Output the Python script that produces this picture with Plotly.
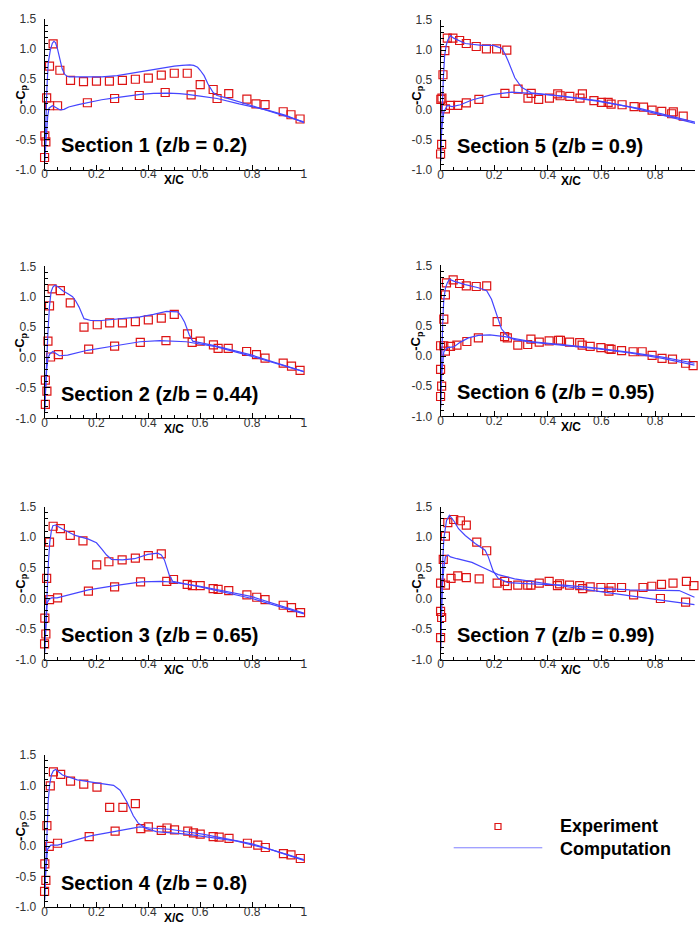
import plotly.graph_objects as go

# ---------------- data: -Cp vs x/c at seven spanwise stations ----------------
section_labels = ["Section 1 (z/b = 0.2)", "Section 2 (z/b = 0.44)", "Section 3 (z/b = 0.65)",
                  "Section 4 (z/b = 0.8)", "Section 5 (z/b = 0.9)", "Section 6 (z/b = 0.95)",
                  "Section 7 (z/b = 0.99)"]

x_tick_vals = [0, 0.2, 0.4, 0.6, 0.8, 1.0]
x_tick_text = ["0", "0.2", "0.4", "0.6", "0.8", "1"]
y_tick_vals = [-1.0, -0.5, 0.0, 0.5, 1.0, 1.5]
y_tick_text = ["-1.0", "-0.5", "0.0", "0.5", "1.0", "1.5"]

# Section 1
s1_exp_x = [0.0, 0.001, 0.005, 0.008, 0.019, 0.019, 0.033, 0.05, 0.059, 0.10, 0.15, 0.165, 0.20, 0.25,
            0.27, 0.30, 0.35, 0.365, 0.40, 0.45, 0.465, 0.50, 0.55, 0.565, 0.60, 0.65, 0.665, 0.71,
            0.78, 0.815, 0.85, 0.92, 0.95, 0.985]
s1_exp_y = [-0.80, -0.44, -0.54, 0.19, 0.06, 0.72, 1.09, 0.06, 0.65, 0.48, 0.46, 0.11, 0.47, 0.47,
            0.18, 0.48, 0.50, 0.23, 0.52, 0.57, 0.28, 0.60, 0.60, 0.24, 0.41, 0.33, 0.18, 0.26,
            0.17, 0.09, 0.08, -0.04, -0.09, -0.16]
s1_up_x = [0.0, 0.004, 0.009, 0.014, 0.022, 0.030, 0.036, 0.042, 0.050, 0.060, 0.068, 0.078, 0.087,
           0.095, 0.12, 0.16, 0.22, 0.28, 0.35, 0.40, 0.45, 0.50, 0.53, 0.56, 0.575, 0.59, 0.60,
           0.615, 0.63, 0.64, 0.65, 0.665, 0.70, 0.80, 0.90, 1.0]
s1_up_y = [-0.88, -0.20, 0.35, 0.77, 0.98, 1.10, 1.13, 1.11, 1.00, 0.82, 0.67, 0.58, 0.55,
           0.54, 0.54, 0.54, 0.54, 0.56, 0.61, 0.65, 0.69, 0.72, 0.73, 0.74, 0.73, 0.70, 0.65,
           0.56, 0.42, 0.34, 0.28, 0.23, 0.19, 0.06, -0.08, -0.21]
s1_lo_x = [0.0, 0.004, 0.008, 0.012, 0.017, 0.024, 0.030, 0.040, 0.050, 0.060, 0.075, 0.093, 0.13,
           0.17, 0.22, 0.27, 0.32, 0.37, 0.42, 0.475, 0.52, 0.55, 0.60, 0.665, 0.75, 0.856, 0.93, 1.0]
s1_lo_y = [-0.88, -0.60, -0.35, -0.12, 0.02, 0.05, 0.06, 0.04, 0.01, -0.01, 0.0, 0.04, 0.08,
           0.12, 0.16, 0.19, 0.22, 0.25, 0.265, 0.27, 0.26, 0.25, 0.22, 0.18, 0.09, -0.01, -0.10, -0.22]

# Section 2
s2_exp_x = [0.003, 0.003, 0.009, 0.013, 0.019, 0.023, 0.029, 0.053, 0.061, 0.099, 0.152, 0.17, 0.203,
            0.251, 0.27, 0.30, 0.35, 0.369, 0.40, 0.45, 0.468, 0.50, 0.551, 0.569, 0.60, 0.651,
            0.669, 0.708, 0.779, 0.817, 0.85, 0.92, 0.952, 0.985]
s2_exp_y = [-0.77, -0.37, -0.55, 0.27, 0.85, 0.01, 1.13, 0.05, 1.10, 0.90, 0.50, 0.14, 0.54,
            0.57, 0.19, 0.57, 0.59, 0.25, 0.62, 0.65, 0.28, 0.71, 0.39, 0.25, 0.27, 0.21,
            0.15, 0.15, 0.10, 0.05, -0.01, -0.09, -0.14, -0.21]
s2_up_x = [0.0, 0.004, 0.008, 0.013, 0.019, 0.025, 0.032, 0.040, 0.050, 0.070, 0.090, 0.108, 0.120,
           0.133, 0.152, 0.178, 0.22, 0.28, 0.368, 0.42, 0.47, 0.514, 0.527, 0.54, 0.558, 0.571,
           0.65, 0.80, 1.0]
s2_up_y = [-0.88, -0.45, 0.0, 0.42, 0.85, 1.08, 1.16, 1.19, 1.17, 1.10, 1.05, 1.00, 0.93,
           0.83, 0.64, 0.61, 0.61, 0.63, 0.67, 0.71, 0.76, 0.75, 0.68, 0.58, 0.37, 0.27,
           0.20, 0.04, -0.23]
s2_lo_x = [0.0, 0.004, 0.008, 0.013, 0.020, 0.032, 0.045, 0.057, 0.089, 0.165, 0.267, 0.368, 0.444,
           0.546, 0.66, 0.80, 1.0]
s2_lo_y = [-0.88, -0.44, -0.20, -0.01, 0.06, 0.10, 0.06, 0.03, 0.04, 0.12, 0.19, 0.26, 0.28,
           0.26, 0.18, 0.02, -0.23]

# Section 3
s3_exp_x = [0.0, 0.001, 0.005, 0.008, 0.019, 0.019, 0.033, 0.05, 0.061, 0.099, 0.148, 0.169, 0.201,
            0.248, 0.27, 0.299, 0.35, 0.37, 0.40, 0.45, 0.471, 0.497, 0.55, 0.57, 0.60, 0.65,
            0.669, 0.71, 0.78, 0.818, 0.85, 0.92, 0.952, 0.987]
s3_exp_y = [-0.74, -0.32, -0.58, 0.33, 0.92, -0.02, 1.18, 0.01, 1.14, 1.03, 0.94, 0.12, 0.55,
            0.60, 0.19, 0.63, 0.66, 0.27, 0.70, 0.73, 0.28, 0.31, 0.23, 0.21, 0.21, 0.16,
            0.15, 0.13, 0.06, 0.02, -0.02, -0.11, -0.15, -0.23]
s3_up_x = [0.0, 0.004, 0.010, 0.015, 0.020, 0.026, 0.032, 0.042, 0.067, 0.118, 0.169, 0.20, 0.22,
           0.239, 0.258, 0.30, 0.347, 0.398, 0.436, 0.450, 0.462, 0.481, 0.494, 0.60, 0.80, 1.0]
s3_up_y = [-0.88, -0.40, 0.17, 0.60, 0.92, 1.10, 1.19, 1.20, 1.14, 1.03, 0.97, 0.91, 0.81,
           0.71, 0.64, 0.63, 0.65, 0.72, 0.74, 0.71, 0.63, 0.38, 0.28, 0.19, 0.0, -0.25]
s3_lo_x = [0.0, 0.004, 0.010, 0.018, 0.027, 0.048, 0.093, 0.169, 0.271, 0.373, 0.449, 0.487, 0.60,
           0.80, 1.0]
s3_lo_y = [-0.88, -0.45, -0.07, -0.01, 0.01, 0.01, 0.06, 0.14, 0.21, 0.27, 0.28, 0.27, 0.20,
           0.03, -0.24]

# Section 4
s4_exp_x = [0.0, 0.001, 0.005, 0.009, 0.018, 0.022, 0.034, 0.05, 0.062, 0.10, 0.151, 0.172, 0.202,
            0.251, 0.272, 0.302, 0.35, 0.371, 0.40, 0.45, 0.472, 0.501, 0.552, 0.574, 0.60, 0.65,
            0.673, 0.711, 0.782, 0.822, 0.851, 0.921, 0.95, 0.986]
s4_exp_y = [-0.74, -0.29, -0.56, 0.34, 0.00, 0.99, 1.22, 0.05, 1.18, 1.07, 1.02, 0.16, 0.97,
            0.64, 0.25, 0.64, 0.70, 0.29, 0.32, 0.26, 0.30, 0.27, 0.25, 0.22, 0.20, 0.16,
            0.15, 0.13, 0.05, 0.02, -0.02, -0.12, -0.14, -0.20]
s4_up_x = [0.0, 0.004, 0.009, 0.014, 0.020, 0.027, 0.034, 0.043, 0.069, 0.126, 0.20, 0.266, 0.291,
           0.317, 0.342, 0.361, 0.393, 0.431, 0.546, 0.737, 0.87, 1.0]
s4_up_y = [-0.88, -0.30, 0.38, 0.75, 1.03, 1.18, 1.24, 1.26, 1.17, 1.09, 1.04, 1.00, 0.92,
           0.73, 0.50, 0.38, 0.29, 0.24, 0.20, 0.09, -0.05, -0.23]
s4_lo_x = [0.0, 0.004, 0.011, 0.024, 0.05, 0.10, 0.177, 0.278, 0.367, 0.405, 0.482, 0.609, 0.80, 1.0]
s4_lo_y = [-0.88, -0.45, -0.05, 0.02, 0.02, 0.08, 0.17, 0.25, 0.32, 0.30, 0.28, 0.20, 0.04, -0.22]

# Section 5
s5_exp_x = [0.0, 0.001, 0.004, 0.005, 0.009, 0.016, 0.018, 0.025, 0.037, 0.046, 0.064, 0.071, 0.096,
            0.096, 0.133, 0.143, 0.171, 0.209, 0.24, 0.247, 0.289, 0.326, 0.338, 0.366, 0.406,
            0.437, 0.446, 0.482, 0.52, 0.529, 0.572, 0.60, 0.625, 0.636, 0.677, 0.722, 0.757,
            0.789, 0.825, 0.862, 0.868, 0.905, 0.95]
s5_exp_y = [-0.73, 0.18, -0.57, 0.20, 0.59, 0.99, 0.02, 1.20, 0.08, 1.20, 0.08, 1.16, 1.11,
            0.12, 1.06, 0.18, 1.02, 1.02, 0.28, 1.00, 0.35, 0.20, 0.28, 0.18, 0.20,
            0.27, 0.24, 0.23, 0.20, 0.27, 0.16, 0.13, 0.13, 0.10, 0.09, 0.06, 0.05,
            0.0, -0.02, -0.06, -0.03, -0.10, -0.19]
s5_up_x = [0.0, 0.003, 0.006, 0.010, 0.015, 0.021, 0.027, 0.037, 0.049, 0.092, 0.154, 0.197, 0.228,
           0.240, 0.252, 0.277, 0.302, 0.338, 0.462, 0.585, 0.708, 0.83, 0.95]
s5_up_y = [-0.85, -0.40, 0.08, 0.50, 0.90, 1.08, 1.17, 1.24, 1.20, 1.11, 1.08, 1.08, 1.03,
           0.94, 0.82, 0.54, 0.38, 0.29, 0.23, 0.16, 0.05, -0.08, -0.22]
s5_lo_x = [0.0, 0.004, 0.012, 0.025, 0.043, 0.074, 0.117, 0.191, 0.265, 0.338, 0.437, 0.585, 0.75, 0.95]
s5_lo_y = [-0.85, -0.31, -0.03, 0.08, 0.06, 0.09, 0.17, 0.26, 0.30, 0.28, 0.24, 0.15, 0.02, -0.20]

# Section 6
s6_exp_x = [0.0, 0.0, 0.0, 0.004, 0.012, 0.012, 0.018, 0.018, 0.022, 0.037, 0.047, 0.061, 0.071,
            0.096, 0.098, 0.133, 0.141, 0.172, 0.211, 0.239, 0.249, 0.288, 0.325, 0.337, 0.368,
            0.405, 0.44, 0.447, 0.481, 0.519, 0.528, 0.558, 0.598, 0.629, 0.636, 0.675, 0.718,
            0.752, 0.789, 0.826, 0.865, 0.914, 0.942]
s6_exp_y = [-0.67, -0.22, 0.17, -0.50, 0.61, 0.17, 1.01, 0.08, 1.21, 0.16, 1.26, 0.18, 1.20,
            1.16, 0.24, 1.15, 0.30, 1.16, 0.57, 0.32, 0.30, 0.18, 0.19, 0.28, 0.23,
            0.25, 0.26, 0.26, 0.23, 0.22, 0.18, 0.16, 0.14, 0.12, 0.11, 0.09, 0.07,
            0.07, 0.01, -0.04, -0.05, -0.12, -0.16]
s6_up_x = [0.0, 0.002, 0.004, 0.008, 0.012, 0.018, 0.025, 0.033, 0.049, 0.092, 0.141, 0.172, 0.19,
           0.209, 0.227, 0.252, 0.276, 0.337, 0.46, 0.583, 0.706, 0.828, 0.947]
s6_up_y = [-0.85, -0.40, 0.07, 0.55, 0.94, 1.12, 1.21, 1.27, 1.24, 1.18, 1.13, 1.08, 0.94,
           0.67, 0.45, 0.32, 0.27, 0.23, 0.18, 0.12, 0.05, -0.04, -0.15]
s6_lo_x = [0.0, 0.004, 0.012, 0.025, 0.049, 0.074, 0.104, 0.141, 0.184, 0.239, 0.337, 0.46, 0.583,
           0.706, 0.828, 0.947]
s6_lo_y = [-0.85, -0.31, 0.07, 0.14, 0.15, 0.23, 0.30, 0.34, 0.35, 0.32, 0.24, 0.19, 0.13,
           0.06, -0.02, -0.12]

# Section 7
s7_exp_x = [0.0, 0.0, 0.0, 0.004, 0.010, 0.018, 0.018, 0.027, 0.039, 0.049, 0.064, 0.074, 0.096,
            0.096, 0.135, 0.144, 0.172, 0.211, 0.239, 0.249, 0.288, 0.325, 0.337, 0.368, 0.405,
            0.436, 0.444, 0.481, 0.519, 0.530, 0.558, 0.598, 0.628, 0.636, 0.675, 0.72, 0.755,
            0.788, 0.82, 0.824, 0.867, 0.914, 0.917, 0.945]
s7_exp_y = [-0.64, -0.21, 0.25, -0.31, 0.64, 1.02, 0.22, 1.24, 0.33, 1.29, 0.37, 1.27, 1.20,
            0.34, 0.92, 0.32, 0.78, 0.25, 0.28, 0.21, 0.22, 0.22, 0.22, 0.25, 0.28,
            0.21, 0.24, 0.22, 0.21, 0.16, 0.19, 0.18, 0.12, 0.18, 0.18, 0.06, 0.18,
            0.20, 0.00, 0.23, 0.25, -0.06, 0.28, 0.21]
s7_up_x = [0.0, 0.002, 0.004, 0.008, 0.012, 0.017, 0.022, 0.033, 0.049, 0.067, 0.092, 0.129, 0.166,
           0.178, 0.196, 0.215, 0.252, 0.337, 0.46, 0.583, 0.706, 0.89, 0.947]
s7_up_y = [-0.85, -0.35, 0.17, 0.60, 0.97, 1.15, 1.27, 1.36, 1.27, 1.14, 1.03, 0.90, 0.79,
           0.68, 0.45, 0.33, 0.26, 0.24, 0.22, 0.17, 0.14, 0.13, 0.02]
s7_lo_x = [0.0, 0.003, 0.006, 0.012, 0.018, 0.028, 0.037, 0.061, 0.117, 0.166, 0.215, 0.276, 0.362,
           0.46, 0.583, 0.706, 0.828, 0.947]
s7_lo_y = [-0.85, -0.30, 0.17, 0.50, 0.68, 0.71, 0.68, 0.65, 0.59, 0.49, 0.39, 0.32, 0.26,
           0.20, 0.12, 0.04, -0.03, -0.10]

sections = [
    (s1_exp_x, s1_exp_y, s1_up_x, s1_up_y, s1_lo_x, s1_lo_y),
    (s2_exp_x, s2_exp_y, s2_up_x, s2_up_y, s2_lo_x, s2_lo_y),
    (s3_exp_x, s3_exp_y, s3_up_x, s3_up_y, s3_lo_x, s3_lo_y),
    (s4_exp_x, s4_exp_y, s4_up_x, s4_up_y, s4_lo_x, s4_lo_y),
    (s5_exp_x, s5_exp_y, s5_up_x, s5_up_y, s5_lo_x, s5_lo_y),
    (s6_exp_x, s6_exp_y, s6_up_x, s6_up_y, s6_lo_x, s6_lo_y),
    (s7_exp_x, s7_exp_y, s7_up_x, s7_up_y, s7_lo_x, s7_lo_y),
]

# ---------------- layout geometry (figure pixels, 699 x 930) ----------------
W, H = 699, 930
left_col = (42, 304)       # x pixels of the left column plot area
right_col = (442, 699)     # right column runs off the page edge
right_xmax = 0.949         # visible part of the right-column chord axis
rows_px = [(12.3, 165), (263.3, 417.7), (507.3, 662.7), (759.3, 914)]
rows_px_right = [(13.3, 165.7), (262.3, 415.7), (507.3, 662.7)]

panel_boxes = []
for r in range(4):
    panel_boxes.append((left_col, rows_px[r], 1.0))
for r in range(3):
    panel_boxes.append((right_col, rows_px_right[r], right_xmax))

RED = "#dd1414"
BLUE = "#4545ff"
TICKFONT = dict(family="Arial, Liberation Sans, sans-serif", size=12, color="#333333")
BOLD = "Arial, Liberation Sans, sans-serif"

fig = go.Figure()
layout = dict(width=W, height=H, margin=dict(l=0, r=0, t=0, b=0),
              paper_bgcolor="white", plot_bgcolor="white", showlegend=False)
annotations = []

for i, ((ex, ey, ux, uy, lx, ly), (xpx, ypx, xmax)) in enumerate(zip(sections, panel_boxes)):
    k = "" if i == 0 else str(i + 1)
    xa, ya = "x" + k, "y" + k
    fig.add_trace(go.Scatter(x=ex, y=ey, mode="markers", xaxis=xa, yaxis=ya, cliponaxis=False,
                             marker=dict(symbol="square-open", size=8, color=RED,
                                         line=dict(width=1.2, color=RED))))
    for cx, cy in ((ux, uy), (lx, ly)):
        fig.add_trace(go.Scatter(x=cx, y=cy, mode="lines", xaxis=xa, yaxis=ya,
                                 line=dict(color=BLUE, width=1.2)))

    tv = [v for v in x_tick_vals if v <= xmax + 1e-9]
    tt = x_tick_text[:len(tv)]
    layout["xaxis" + k] = dict(
        domain=[xpx[0] / W, min(xpx[1] / W, 1.0)], range=[0, xmax], anchor=ya,
        showline=True, linecolor="black", linewidth=1, showgrid=False, zeroline=False,
        ticks="inside", ticklen=5, tickwidth=1, tickcolor="black",
        tickvals=tv, ticktext=tt, tickfont=TICKFONT, ticklabelstandoff=-7,
        minor=dict(dtick=0.05, tick0=0, ticks="inside", ticklen=3, tickwidth=1, tickcolor="black"))
    layout["yaxis" + k] = dict(
        domain=[1 - ypx[1] / H, 1 - ypx[0] / H], range=[-1.0, 1.5], anchor=xa,
        showline=True, linecolor="black", linewidth=1, showgrid=False, zeroline=False,
        ticks="inside", ticklen=5, tickwidth=1, tickcolor="black",
        tickvals=y_tick_vals, ticktext=y_tick_text, tickfont=TICKFONT, ticklabelstandoff=5,
        minor=dict(dtick=0.1, tick0=0, ticks="inside", ticklen=3, tickwidth=1, tickcolor="black"))

    hpx = ypx[1] - ypx[0]
    annotations.append(dict(text="<b>" + section_labels[i] + "</b>", xref=xa, yref=ya,
                            x=0.07, y=-0.6, xanchor="left", yanchor="middle", showarrow=False,
                            xshift=-4, font=dict(family=BOLD, size=20, color="black")))
    annotations.append(dict(text="<b>X/C</b>", xref=xa, yref=ya + " domain",
                            x=0.5 if xmax == 1.0 else 0.485, y=-10.5 / hpx,
                            xanchor="center", yanchor="middle", showarrow=False,
                            font=dict(family=BOLD, size=12, color="black")))
    annotations.append(dict(text="<b>-C<sub>p</sub></b>", xref=xa + " domain", yref=ya + " domain",
                            x=-24 / (xpx[1] - xpx[0]), y=0.5, xanchor="center", yanchor="middle",
                            textangle=-90, showarrow=False,
                            font=dict(family=BOLD, size=13, color="black")))

# ---------------- legend keys ----------------
fig.add_trace(go.Scatter(x=[0.5], y=[1], mode="markers", xaxis="x8", yaxis="y8", cliponaxis=False,
                         marker=dict(symbol="square-open", size=6, color=RED,
                                     line=dict(width=1.2, color=RED))))
fig.add_trace(go.Scatter(x=[0, 1], y=[0, 0], mode="lines", xaxis="x8", yaxis="y8", cliponaxis=False,
                         line=dict(color=BLUE, width=1.2)))
layout["xaxis8"] = dict(domain=[455 / W, 545 / W], range=[0, 1], visible=False, anchor="y8")
layout["yaxis8"] = dict(domain=[1 - 854 / H, 1 - 832 / H], range=[0, 1], visible=False, anchor="x8")
annotations.append(dict(text="<b>Experiment</b>", xref="paper", yref="paper", x=561 / W, y=1 - 832 / H,
                        xanchor="left", yanchor="middle", showarrow=False,
                        font=dict(family=BOLD, size=18, color="black")))
annotations.append(dict(text="<b>Computation</b>", xref="paper", yref="paper", x=561 / W, y=1 - 855 / H,
                        xanchor="left", yanchor="middle", showarrow=False,
                        font=dict(family=BOLD, size=18, color="black")))

layout["annotations"] = annotations
fig.update_layout(**layout)
fig.write_html("out.html")
